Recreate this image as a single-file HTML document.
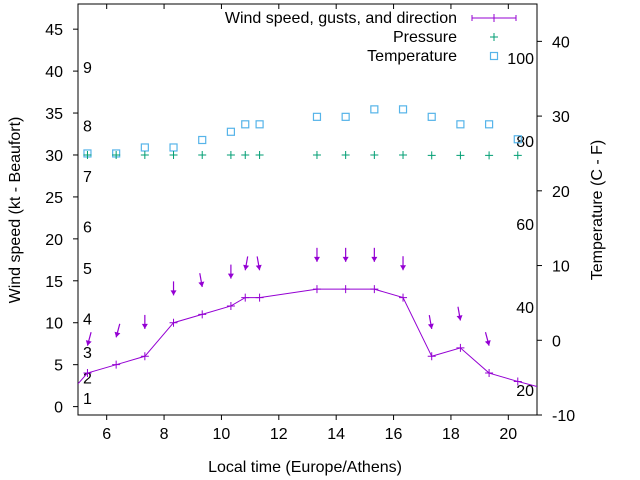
<!DOCTYPE html>
<html><head><meta charset="utf-8"><style>
body{margin:0;background:#fff}
svg{display:block;font-family:"Liberation Sans",sans-serif;font-size:16px}
</style></head><body>
<svg id="chart" width="640" height="480" xmlns="http://www.w3.org/2000/svg">
<g id="axes"></g><g id="marks"></g><g id="legend"></g>
</svg>
<script>
const times=[5.33,6.33,7.33,8.33,9.33,10.33,10.83,11.33,13.33,14.33,15.33,16.33,17.33,18.33,19.33,20.33];
const windSpeed=[4,5,6,10,11,12,13,13,14,14,14,13,6,7,4,3];
const gusts=[7.5,8.5,9.5,13.5,14.5,15.5,16.5,16.5,17.5,17.5,17.5,16.5,9.5,10.5,7.5,null];
const windDir=[15,15,0,0,350,0,10,350,0,0,0,0,350,350,345,null];
const temperature=[25,25,25.8,25.8,26.8,27.9,28.9,28.9,29.9,29.9,30.9,30.9,29.9,28.9,28.9,26.9];
const pressure=[30,30,30,30,30,30,30,30,30,30,30,30,29.95,29.95,29.95,29.95];
const xTicks=[6,8,10,12,14,16,18,20];
const yTicks=[0,5,10,15,20,25,30,35,40,45];
const y2Ticks=[-10,0,10,20,30,40];
const beaufort=[1,2,3,4,5,6,7,8,9];
const beaufortKt=[1,3.5,6.5,10.5,16.5,21.5,27.5,33.5,40.5];
const fahrenheit=[20,40,60,80,100];

const L=78,R=537,T=4,B=415;
const X=v=>L+(v-5)/(21-5)*(R-L);
const Y=v=>B-(v+1)/(48+1)*(B-T);
const Y2=v=>B-(v+10)/(45+10)*(B-T);
const NS="http://www.w3.org/2000/svg";
function mk(p,tag,at,txt){const e=document.createElementNS(NS,tag);for(const k in at)e.setAttribute(k,at[k]);if(txt!==undefined)e.textContent=txt;p.appendChild(e);return e;}
const ax=document.getElementById('axes'),mg=document.getElementById('marks'),lg=document.getElementById('legend');
const fr=mk(ax,'rect',{x:L,y:T,width:R-L,height:B-T,fill:'none',stroke:'#000','stroke-width':1});


xTicks.forEach(v=>{const x=X(v);
 mk(ax,'line',{x1:x,x2:x,y1:B,y2:B+5,stroke:'#000'});
 mk(ax,'line',{x1:x,x2:x,y1:T,y2:T+5,stroke:'#000'});
 const t=mk(ax,'text',{x:x,y:B+24,'text-anchor':'middle'},v);
 
 });
yTicks.forEach(v=>{const y=Y(v);
 mk(ax,'line',{x1:L-5,x2:L,y1:y,y2:y,stroke:'#000'});
 const t=mk(ax,'text',{x:L-15,y:y+6,'text-anchor':'end'},v);
 
 });
y2Ticks.forEach(v=>{const y=Y2(v);
 mk(ax,'line',{x1:R,x2:R+5,y1:y,y2:y,stroke:'#000'});
 const t=mk(ax,'text',{x:R+15,y:y+6,'text-anchor':'start'},v);
 
 });
beaufort.forEach((b,i)=>{const t=mk(ax,'text',{x:83,y:Y(beaufortKt[i])+6},b);
 
 });
fahrenheit.forEach(f=>{const t=mk(ax,'text',{x:534,y:Y2((f-32)*5/9)+6,'text-anchor':'end'},f);
 
 });
let t=mk(ax,'text',{x:305,y:472,'text-anchor':'middle'},'Local time (Europe/Athens)');

t=mk(ax,'text',{x:0,y:0,'text-anchor':'middle',transform:'translate(20,210) rotate(-90)'},'Wind speed (kt - Beaufort)');

t=mk(ax,'text',{x:0,y:0,'text-anchor':'middle',transform:'translate(602,210) rotate(-90)'},'Temperature (C - F)');


const purple='#9400d3',green='#009e73',blue='#56b4e9';
const cp=mk(mg,'clipPath',{id:'clip'});mk(cp,'rect',{x:L,y:T,width:R-L,height:B-T});
let d='';
const n=times.length;
const x0=5,y0=windSpeed[0]-(windSpeed[1]-windSpeed[0])*(times[0]-x0)*3.9;
d='M'+X(x0)+','+Y(y0);
times.forEach((tm,i)=>d+=' L'+X(tm)+','+Y(windSpeed[i]));
const xe=21,ye=windSpeed[n-1]-(windSpeed[n-2]-windSpeed[n-1])*(xe-times[n-1])*0.9;
d+=' L'+X(xe)+','+Y(ye);
const ln=mk(mg,'path',{d:d,fill:'none',stroke:purple,'stroke-width':1,'clip-path':'url(#clip)'});


times.forEach((tm,i)=>{const x=X(tm),y=Y(windSpeed[i]);
 const p=mk(mg,'path',{d:`M${x-4},${y}H${x+4}M${x},${y-4}V${y+4}`,stroke:purple});
 
 if(gusts[i]!=null){const gx=x,gy=Y(gusts[i])+2;const a=windDir[i]*Math.PI/180;
  const tx=gx+Math.sin(a)*14,ty=gy-Math.cos(a)*14;
  const ar=mk(mg,'g',{});
  
  mk(ar,'line',{x1:tx,y1:ty,x2:gx,y2:gy,stroke:purple,'stroke-width':1.2});
  const ux=(gx-tx)/14,uy=(gy-ty)/14,px=-uy,py=ux;
  mk(ar,'polygon',{points:`${gx},${gy} ${gx-ux*5+px*3},${gy-uy*5+py*3} ${gx-ux*5-px*3},${gy-uy*5-py*3}`,fill:purple});}
 const tq=Y2(temperature[i]);
 const s=mk(mg,'rect',{x:x-3.5,y:tq-3.5,width:7,height:7,fill:'none',stroke:blue,'stroke-width':1.2});
 
 const py2=Y(pressure[i]);
 const pp=mk(mg,'path',{d:`M${x-4},${py2}H${x+4}M${x},${py2-4}V${py2+4}`,stroke:green});
 
});
const items=[['Wind speed, gusts, and direction','wind'],['Pressure','p'],['Temperature','t']];
items.forEach((it,i)=>{const y=18+i*19;
 const e=mk(lg,'g',{});
 
 mk(e,'text',{x:457,y:y+5,'text-anchor':'end'},it[0]);
 const cx=494;
 if(it[1]=='wind'){mk(e,'path',{d:`M472,${y}H516M472,${y-3}V${y+3}M516,${y-3}V${y+3}M${cx},${y-4}V${y+4}`,stroke:purple,fill:'none'});}
 else if(it[1]=='p'){mk(e,'path',{d:`M${cx-4},${y}H${cx+4}M${cx},${y-4}V${y+4}`,stroke:green});}
 else mk(e,'rect',{x:cx-3.5,y:y-3.5,width:7,height:7,fill:'none',stroke:blue,'stroke-width':1.2});
});
</script>
</body></html>
